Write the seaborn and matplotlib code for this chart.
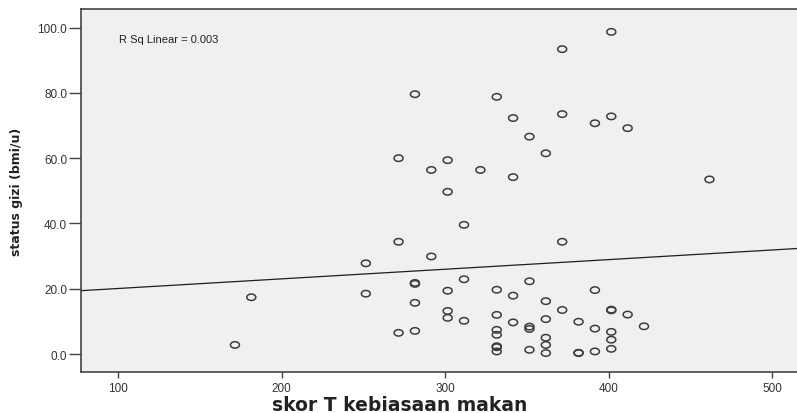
import numpy as np
import pandas as pd
import matplotlib
matplotlib.use("Agg")
import matplotlib.pyplot as plt
import seaborn as sns
from matplotlib.ticker import FormatStrFormatter

# skor T kebiasaan makan vs status gizi (bmi/u)
skor_t = [171.5, 181.5,
          251.5, 251.5,
          271.5, 271.5, 271.5,
          281.5, 281.5, 281.5, 281.5, 281.5,
          291.5, 291.5,
          301.5, 301.5, 301.5, 301.5, 301.5,
          311.5, 311.5, 311.5,
          321.5,
          331.5, 331.5, 331.5, 331.5, 331.5, 331.5, 331.5, 331.5,
          341.5, 341.5, 341.5, 341.5,
          351.5, 351.5, 351.5, 351.5, 351.5,
          361.5, 361.5, 361.5, 361.5, 361.5, 361.5,
          371.5, 371.5, 371.5, 371.5,
          381.5, 381.5, 381.5,
          391.5, 391.5, 391.5, 391.5,
          401.5, 401.5, 401.5, 401.5, 401.5, 401.5, 401.5,
          411.5, 411.5,
          421.5,
          461.5]
status_gizi = [2.8, 17.4,
               27.8, 18.5,
               60.0, 34.4, 6.5,
               79.6, 21.8, 21.5, 15.7, 7.1,
               56.4, 29.9,
               59.4, 49.7, 19.4, 13.2, 11.1,
               39.6, 22.9, 10.2,
               56.4,
               78.8, 19.7, 12.0, 7.4, 5.9, 2.4, 2.1, 0.8,
               72.3, 54.2, 17.9, 9.7,
               66.6, 22.3, 8.4, 7.7, 1.3,
               61.5, 16.2, 10.7, 5.0, 2.8, 0.3,
               93.4, 73.5, 34.4, 13.5,
               9.9, 0.4, 0.3,
               70.7, 19.6, 7.8, 0.8,
               98.7, 72.8, 13.6, 13.4, 6.8, 4.4, 1.6,
               69.2, 12.1,
               8.5,
               53.5]
x_ticks = [100, 200, 300, 400, 500]
y_ticks = [0, 20, 40, 60, 80, 100]
r_sq_label = "R Sq Linear = 0.003"

df = pd.DataFrame({"skor": skor_t, "gizi": status_gizi})

sns.set_style("ticks", {"axes.facecolor": "#eff0f2"})
plt.rcParams["font.family"] = ["Liberation Sans", "DejaVu Sans"]

fig = plt.figure(figsize=(7.97, 4.14), dpi=100)
ax = fig.add_axes([0.1016, 0.099, 0.8984, 0.8768])

# SPSS style open markers, a bit wider than tall
t = np.linspace(0, 2 * np.pi, 40)
ellipse = list(zip(1.4 * np.cos(t), np.sin(t)))

ax.set_xlim(77.4, 515)
ax.set_ylim(-5.5, 105.7)

sns.scatterplot(data=df, x="skor", y="gizi", ax=ax, marker=ellipse, s=42,
                facecolor="none", edgecolor="#3c3c3c", linewidth=1.1, legend=False)
sns.regplot(data=df, x="skor", y="gizi", ax=ax, scatter=False, ci=None,
            truncate=False, line_kws={"color": "#1e1e1e", "lw": 0.9})

ax.set_xlim(77.4, 515)
ax.set_ylim(-5.5, 105.7)
ax.set_xticks(x_ticks)
ax.set_yticks(y_ticks)
ax.yaxis.set_major_formatter(FormatStrFormatter("%.1f"))
ax.tick_params(axis="y", length=9, width=1, color="#444444", labelsize=8.5,
               labelcolor="#333333", pad=1)
ax.tick_params(axis="x", length=4, width=1, color="#444444", labelsize=8.5,
               labelcolor="#333333", pad=3)

for side in ["left", "bottom", "top"]:
    ax.spines[side].set_color("#444444")
    ax.spines[side].set_linewidth(1.2)
    ax.spines[side].set_visible(True)
ax.spines["right"].set_visible(False)

ax.set_xlabel("skor T kebiasaan makan", fontsize=13.5, fontweight="bold",
              family=["DejaVu Sans"], color="#222222")
ax.xaxis.set_label_coords(0.445, -0.064)
ax.set_ylabel("status gizi (bmi/u)", fontsize=9, fontweight="bold",
              family=["Liberation Sans Narrow", "DejaVu Sans"], color="#222222")
ax.yaxis.set_label_coords(-0.081, 0.5)

ax.text(0.053, 0.917, r_sq_label, transform=ax.transAxes, fontsize=8,
        color="#222222", va="center", ha="left")

fig.savefig("out.png", dpi=100, facecolor="white")
